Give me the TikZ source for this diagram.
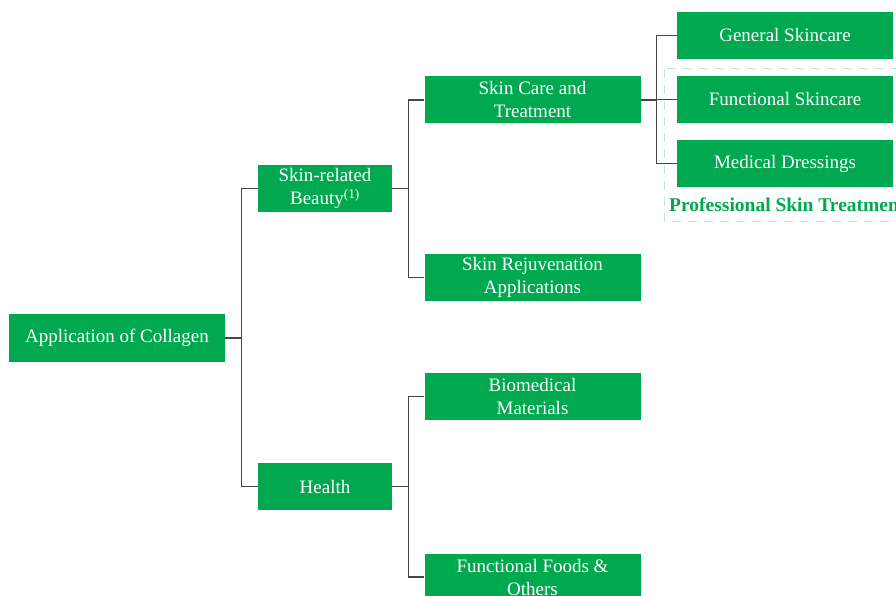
\documentclass[tikz,border=0pt]{standalone}
\usepackage{fontspec}
\setmainfont{Liberation Serif}
\usetikzlibrary{positioning}
\definecolor{leafgreen}{RGB}{0,168,80}
\definecolor{palegreen}{RGB}{196,230,204}
\definecolor{linkgray}{RGB}{70,70,70}

\begin{document}
\begin{tikzpicture}[
  x=1pt, y=-1pt,
  box/.style={rectangle, fill=leafgreen, text=white, align=center, inner sep=0pt,
    font=\fontsize{19}{23}\selectfont},
  root/.style={box, minimum width=216pt, minimum height=48pt},
  mid/.style={box, minimum width=134pt, minimum height=47pt},
  leaf/.style={box, minimum width=216pt, minimum height=47pt},
  link/.style={draw=linkgray, line width=1.1pt}
]
\clip (0,0) rectangle (896,596);
\useasboundingbox (0,0) rectangle (896,596);

% Root
\node[root] (collagen) at (117, 338) {Application of Collagen};

% Second level
\node[mid] (beauty) at (325, 188.5) {Skin-related\\Beauty\textsuperscript{(1)}};
\node[mid] (health) at (325, 486.5) {Health};

% Third level
\node[leaf] (care) at (532.5, 100) {Skin Care and\\Treatment};
\node[leaf] (rejuv) at (532.5, 277.5) {Skin Rejuvenation\\Applications};
\node[leaf] (biomed) at (532.5, 396.5) {Biomedical\\Materials};
\node[leaf] (foods) at (532.5, 577) {Functional Foods \&\\Others};

% Fourth level
\node[leaf] (general) at (785, 35.5) {General Skincare};
\node[leaf] (funcskin) at (785, 99.5) {Functional Skincare};
\node[leaf] (dressing) at (785, 163.5) {Medical Dressings};

% Professional group
\draw[palegreen, line width=1pt, dash pattern=on 9pt off 7pt] (664, 69) rectangle (910, 221);
\node[anchor=west, text=leafgreen, font=\fontsize{19.5}{23}\selectfont\bfseries, inner sep=0pt]
  (prof) at (669, 205) {Professional Skin Treatment};

% Connections
\draw[link] (collagen.east) -- ++(16,0) |- (beauty.west);
\draw[link] (collagen.east) -- ++(16,0) |- (health.west);
\draw[link] (beauty.east) -- ++(16,0) |- (care.west);
\draw[link] (beauty.east) -- ++(16,0) |- (rejuv.west);
\draw[link] (health.east) -- ++(16,0) |- (biomed.west);
\draw[link] (health.east) -- ++(16,0) |- (foods.west);
\draw[link] (care.east) -- ++(16,0) |- (general.west);
\draw[link] (care.east) -- ++(16,0) |- (funcskin.west);
\draw[link] (care.east) -- ++(16,0) |- (dressing.west);

\end{tikzpicture}
\end{document}
